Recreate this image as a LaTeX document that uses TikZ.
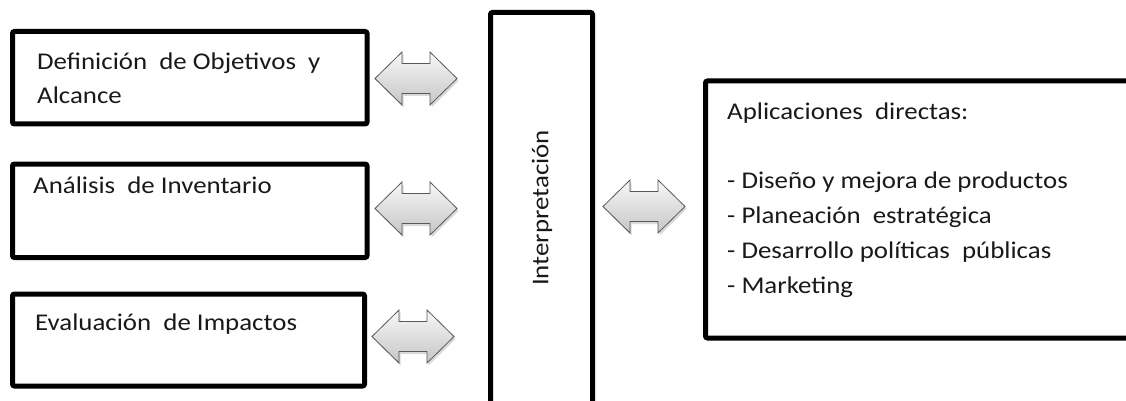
\documentclass[tikz,border=0pt]{standalone}
\usepackage{fontspec}
\setmainfont{Carlito}[FakeStretch=1.12]
\usetikzlibrary{shadows}
\begin{document}
\begin{tikzpicture}[x=1pt,y=-1pt,
  framebox/.style={draw=black,line width=5pt,rounded corners=2pt},
  txt/.style={anchor=base west,inner sep=0pt,text=black!90,font=\fontsize{24}{33}\selectfont},
  arrowfill/.style={draw=black!65,line width=0.8pt,line join=miter,
    top color=gray!6,bottom color=gray!45,
    drop shadow={shadow xshift=1.5pt,shadow yshift=-2.5pt,opacity=0.3}},
  dbl/.pic={
    \path[arrowfill] (-41,0) -- (-14,-26.5) -- (-14,-15) -- (14,-15) -- (14,-26.5)
      -- (41,0) -- (14,26.5) -- (14,15) -- (-14,15) -- (-14,26.5) -- cycle;
    \coordinate (-west) at (-41,0);
    \coordinate (-east) at (41,0);
  }]
  \useasboundingbox (0,0) rectangle (1126,401);
  \clip (0,0) rectangle (1126,401);

  % stage boxes on the left
  \draw[framebox] (12.5,31.5) rectangle (367,124);
  \draw[framebox] (12.5,164) rectangle (367,257.5);
  \draw[framebox] (12.5,294) rectangle (364.5,386);

  \node[txt] (t1) at (37,70) {Definición\ \ de Objetivos\ \ y};
  \node[txt] (t1b) at (37,103) {Alcance};
  \node[txt] (t2) at (33,193) {Análisis\ \ de Inventario};
  \node[txt] (t3) at (35,330) {Evaluación\ \ de Impactos};

  % interpretation column
  \draw[framebox] (490.5,420) -- (490.5,12.5) -- (592.5,12.5) -- (592.5,420);
  \node[rotate=90,inner sep=0pt,text=black!90,font=\fontsize{24}{28}\selectfont] (interp) at (542,208) {Interpretación};

  % applications box
  \draw[framebox] (1140,338) -- (705.5,338) -- (705.5,81) -- (1140,81);
  \node[txt] (ap0) at (727,120) {Aplicaciones\ \ directas:};
  \node[txt] (ap1) at (727,188) {- Diseño y mejora\ de productos};
  \node[txt] (ap2) at (727,223) {- Planeación\ \ estratégica};
  \node[txt] (ap3) at (727,258) {- Desarrollo políticas\ \ públicas};
  \node[txt] (ap4) at (727,293) {- Marketing};

  % double block arrows between the stages
  \pic (a1) at (416,78.5) {dbl};
  \pic (a2) at (416,208.5) {dbl};
  \pic (a3) at (413,336.5) {dbl};
  \pic (a4) at (644,206.5) {dbl};
\end{tikzpicture}
\end{document}
